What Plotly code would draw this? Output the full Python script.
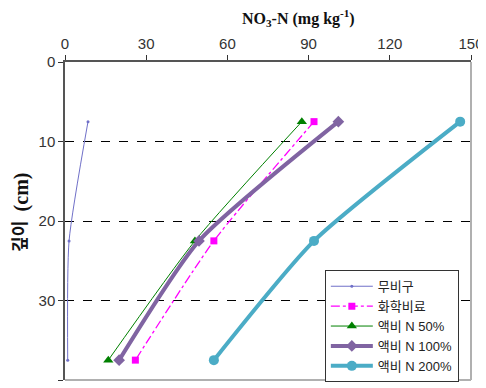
import plotly.graph_objects as go

depth = [7.5, 22.5, 37.5]
series_names = ["무비구", "화학비료", "액비 N 50%", "액비 N 100%", "액비 N 200%"]
no_treat = [8.5, 1.5, 1.0]
chem = [92, 55, 26]
lf50 = [87.5, 48, 16]
lf100 = [101, 49.5, 20]
lf200 = [146, 92, 55]
x_ticks = [0, 30, 60, 90, 120, 150]
y_ticks = [0, 10, 20, 30, 40]

styles = [
    dict(color="#7070c8", width=1, dash="solid", symbol="circle", size=3),
    dict(color="#ff00ff", width=1.3, dash="dashdot", symbol="square", size=7),
    dict(color="#008000", width=1, dash="solid", symbol="triangle-up", size=9),
    dict(color="#8064a2", width=4, dash="solid", symbol="diamond", size=9),
    dict(color="#4bacc6", width=4, dash="solid", symbol="circle", size=10),
]
values = [no_treat, chem, lf50, lf100, lf200]

fig = go.Figure()
for name, vals, st in zip(series_names, values, styles):
    fig.add_trace(go.Scatter(
        x=vals, y=depth, name=name, mode="lines+markers",
        line=dict(color=st["color"], width=st["width"], dash=st["dash"], shape="spline", smoothing=0.6),
        marker=dict(symbol=st["symbol"], size=st["size"], color=st["color"]),
    ))

fig.update_layout(
    width=478, height=380,
    margin=dict(l=57, r=15, t=54, b=6),
    paper_bgcolor="white", plot_bgcolor="white",
    font=dict(family="Liberation Sans, Noto Sans CJK KR", size=14, color="#333333"),
    showlegend=True,
    legend=dict(
        x=0.64, y=0.345, xanchor="left", yanchor="top",
        bgcolor="white", bordercolor="#333333", borderwidth=1,
        font=dict(family="Liberation Sans, Noto Sans CJK KR", size=13, color="#222222"),
        itemwidth=42, tracegroupgap=0,
    ),
    xaxis=dict(
        side="top", range=[0, 150], tickvals=x_ticks, showgrid=False, automargin=False,
        showline=True, linecolor="#555555", linewidth=1.5,
        ticks="outside", ticklen=5, tickcolor="#333333",
        tickfont=dict(size=15, color="#333333"), zeroline=False,
    ),
    yaxis=dict(
        range=[40, 0], tickvals=y_ticks, showgrid=True, automargin=False,
        gridcolor="black", griddash="dash", gridwidth=1,
        showline=True, linecolor="#555555", linewidth=1.5,
        ticks="outside", ticklen=5, tickcolor="#333333",
        tickfont=dict(size=15, color="#333333"), zeroline=False,
    ),
    shapes=[
        dict(type="line", xref="paper", yref="paper", x0=0, x1=1, y0=0, y1=0,
             line=dict(color="#b0b0b0", width=2), layer="above"),
        dict(type="line", xref="paper", yref="paper", x0=1, x1=1, y0=0, y1=1,
             line=dict(color="#b0b0b0", width=2), layer="above"),
    ],
    annotations=[
        dict(text="<b>NO<sub>3</sub>-N (mg kg<sup>-1</sup>)</b>", xref="paper", yref="paper",
             x=0.574, y=1, yshift=31, xanchor="center", yanchor="bottom", showarrow=False,
             font=dict(family="Liberation Serif", size=16, color="#111111")),
        dict(text="<b>깊이</b>",
             xref="paper", yref="paper", x=0, xshift=-46, y=0.45, textangle=-90,
             xanchor="center", yanchor="middle", showarrow=False,
             font=dict(family="Noto Sans CJK KR", size=17, color="#111111")),
        dict(text="<b>(cm)</b>",
             xref="paper", yref="paper", x=0, xshift=-44, y=0.59, textangle=-90,
             xanchor="center", yanchor="middle", showarrow=False,
             font=dict(family="Liberation Serif", size=20, color="#111111")),
    ],
)

fig.write_html("out.html")
